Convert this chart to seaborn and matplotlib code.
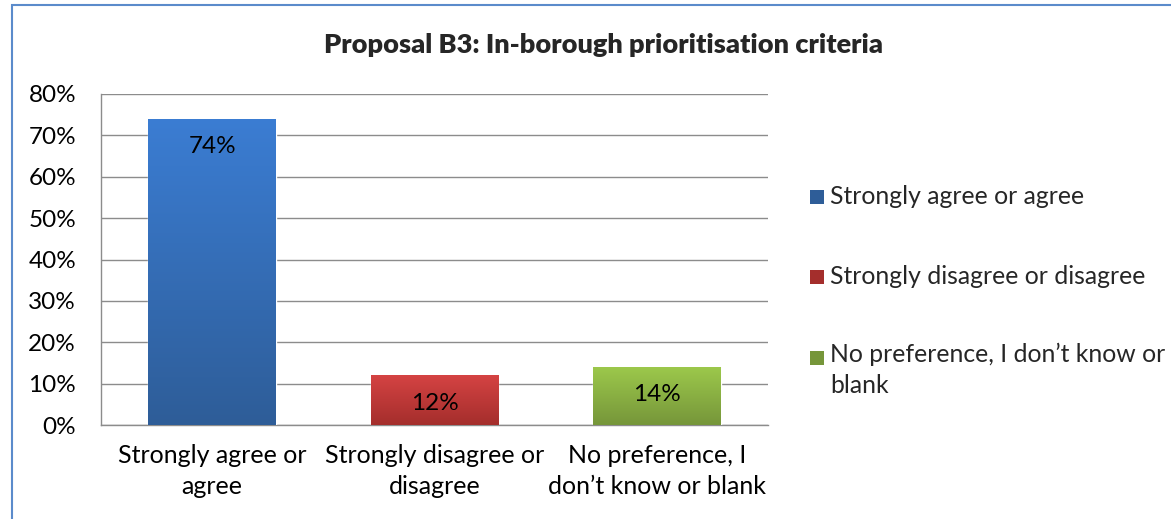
import numpy as np
import pandas as pd
import matplotlib
matplotlib.use('Agg')
import matplotlib.pyplot as plt
from matplotlib.patches import Rectangle
from matplotlib.colors import LinearSegmentedColormap
import seaborn as sns

# data
categories = ['Strongly agree or\nagree', 'Strongly disagree or\ndisagree',
              'No preference, I\ndon\u2019t know or blank']
legend_labels = ['Strongly agree or agree', 'Strongly disagree or disagree',
                 'No preference, I don\u2019t know or\nblank']
values = [74, 12, 14]
yticks = [0, 10, 20, 30, 40, 50, 60, 70, 80]
title = 'Proposal B3: In-borough prioritisation criteria'

# gradient colours (top, bottom)
grads = [('#3B7DD3', '#2E5D98'), ('#D54343', '#A42E2C'), ('#9CC84B', '#76963A')]

sns.set_theme(style='white')
plt.rcParams['font.family'] = ['Lato', 'DejaVu Sans']

df = pd.DataFrame({'cat': categories, 'val': values})

fig = plt.figure(figsize=(11.71, 5.19), dpi=100)
ax = fig.add_axes([101 / 1171, 94 / 519, (768 - 101) / 1171, (425 - 94) / 519])

sns.barplot(data=df, x='cat', y='val', hue='cat', palette=[g[1] for g in grads],
            width=0.575, legend=False, ax=ax, zorder=3)

ax.set_ylim(0, 80)
ax.set_xlim(-0.5, 2.5)
ax.set_yticks(yticks)
ax.set_yticklabels([f'{t}%' for t in yticks])
ax.yaxis.grid(True, color='#8C8C8C', linewidth=1.0, zorder=0)
ax.set_axisbelow(True)
ax.set_xlabel('')
ax.set_ylabel('')
for s in ['top', 'right']:
    ax.spines[s].set_visible(False)
for s in ['left', 'bottom']:
    ax.spines[s].set_color('#8C8C8C')
    ax.spines[s].set_linewidth(1.0)
ax.tick_params(axis='y', length=0, pad=18, labelsize=17.5, labelcolor='black')
ax.tick_params(axis='x', length=0, pad=14, labelsize=18, labelcolor='black')
for t in ax.get_xticklabels():
    t.set_linespacing(1.4)

# gradient fill on each bar
for patch, (top, bot), v in zip(ax.patches, grads, values):
    x0, y0 = patch.get_x(), patch.get_y()
    w, h = patch.get_width(), patch.get_height()
    cmap = LinearSegmentedColormap.from_list('g', [bot, top])
    grad = np.linspace(0, 1, 256).reshape(-1, 1)
    im = ax.imshow(grad, cmap=cmap, aspect='auto', origin='lower',
                   extent=[x0, x0 + w, y0, y0 + h], zorder=4)
    im.set_clip_path(patch)
    ax.annotate(f'{v}%', (x0 + w / 2, v), xytext=(0, -20), textcoords='offset points',
                ha='center', va='center', fontsize=17.5, color='black', zorder=5)
ax.set_xlim(-0.5, 2.5)
ax.set_ylim(0, 80)

# title
fig.text(604 / 1171, 1 - 45 / 519, title, ha='center', va='center',
         fontsize=19.5, fontweight='heavy')

# legend drawn manually
leg_y = [197, 277, 358]
for (top, bot), lab, y in zip(grads, legend_labels, leg_y):
    fig.patches.append(Rectangle((810 / 1171, 1 - (y + 7) / 519), 14 / 1171, 14 / 519,
                                 transform=fig.transFigure, facecolor=bot,
                                 edgecolor='none'))
    if '\n' in lab:
        fig.text(830 / 1171, 1 - (y - 15) / 519, lab, ha='left', va='top',
                 fontsize=17.8, linespacing=1.4)
    else:
        fig.text(830 / 1171, 1 - y / 519, lab, ha='left', va='center', fontsize=17.8)

# outer chart border
fig.patches.append(Rectangle((12 / 1171, -0.1), 1.2, 1 - 5 / 519 + 0.1,
                             transform=fig.transFigure, facecolor='none',
                             edgecolor='#5B8BCB', linewidth=1.5))

fig.savefig('out.png', dpi=100)
